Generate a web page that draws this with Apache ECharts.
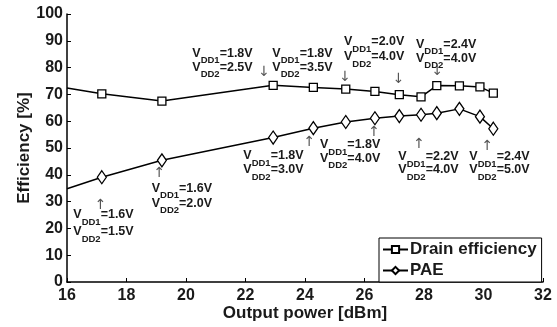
<!DOCTYPE html>
<html><head><meta charset="utf-8">
<script src="https://cdn.jsdelivr.net/npm/echarts@6/dist/echarts.min.js"></script>
<style>html,body{margin:0;padding:0;background:#fff}#c{width:557px;height:327px}</style>
</head><body><div id="c"></div>
<script>
// ---- data ----
const outputPower = [16, 17.17, 19.19, 22.93, 24.28, 25.37, 26.35, 27.17, 27.9, 28.43, 29.19, 29.88, 30.33];
const drainEff    = [72.4, 70.2, 67.5, 73.4, 72.6, 72.0, 71.1, 69.9, 69.1, 73.3, 73.2, 72.8, 70.5];
const paeVals     = [34.8, 39.1, 45.4, 53.9, 57.4, 59.7, 61.1, 61.9, 62.4, 63.0, 64.6, 61.7, 57.2];
const seriesNames = ['Drain efficiency', 'PAE'];
const vdd1Text = ['1.8V', '1.8V', '2.0V', '2.4V', '1.6V', '1.6V', '1.8V', '1.8V', '2.2V', '2.4V'];
const vdd2Text = ['2.5V', '3.5V', '4.0V', '4.0V', '1.5V', '2.0V', '3.0V', '4.0V', '4.0V', '5.0V'];
const arrowText = ['↓', '↓', '↓', '↓', '↑', '↑', '↑', '↑', '↑', '↑'];

// ---- layout (pixels) ----
const labelPos = [
  [192.3, 48.3, 62.3], [272.3, 48.3, 62.3], [344, 36.7, 51.7], [416, 39.3, 53.3],
  [73.3, 210, 226.7], [151.7, 183.3, 198.3], [243.3, 151, 165], [320, 140, 153.3],
  [398.3, 151.7, 165], [469.3, 151.7, 165]
];
const arrowPos = [
  [264, 72.5], [345, 77.5], [398.5, 79.5], [437.3, 71.5],
  [100.7, 205], [159.3, 173.8], [374, 132.4], [309.3, 142.5], [419, 144], [487.3, 146]
];

const FONT = '"Liberation Sans", Arial, Helvetica, sans-serif';
const TXT = '#1a1a1a';

function build(ys) {
  return outputPower.map((x, i) => i === 0 ? { value: [x, ys[i]], symbol: 'none' } : [x, ys[i]]);
}

const rich = {
  m: { fontSize: 12.5, fontWeight: 'bold', fontFamily: FONT, fill: TXT, lineHeight: 12, verticalAlign: 'top' },
  s: { fontSize: 9.5, fontWeight: 'bold', fontFamily: FONT, fill: TXT, lineHeight: 9, verticalAlign: 'top', padding: [9, 0, 0, 0] }
};

const graphics = [];
labelPos.forEach((p, i) => {
  graphics.push({ type: 'text', x: p[0], y: p[1] - 1.5, style: { text: '{m|V}{s|DD1}{m|=' + vdd1Text[i] + '}', rich: rich, verticalAlign: 'top', align: 'left' }, z: 10 });
  graphics.push({ type: 'text', x: p[0], y: p[2] - 1.5, style: { text: '{m|V}{s|DD2}{m|=' + vdd2Text[i] + '}', rich: rich, verticalAlign: 'top', align: 'left' }, z: 10 });
});
arrowPos.forEach((p, i) => {
  graphics.push({ type: 'text', x: p[0], y: p[1], style: { text: arrowText[i], fontSize: 14, fontFamily: '"DejaVu Sans", sans-serif', fill: '#555', align: 'center', verticalAlign: 'middle' }, z: 10 });
});

const chart = echarts.init(document.getElementById('c'), null, { renderer: 'canvas' });
chart.setOption({
  backgroundColor: '#fff',
  animation: false,
  grid: { left: 67, right: 14, top: 14, bottom: 42, containLabel: false },
  xAxis: {
    type: 'value', min: 16, max: 32, interval: 2,
    name: 'Output power [dBm]', nameLocation: 'middle', nameGap: 23, nameMoveOverlap: false,
    nameTextStyle: { fontSize: 17, fontWeight: 'bold', fontFamily: FONT, color: TXT, verticalAlign: 'top' },
    axisLine: { lineStyle: { color: '#000', width: 1.5 } },
    axisTick: { inside: true, length: 4, lineStyle: { color: '#000', width: 1 } },
    axisLabel: { fontSize: 16, fontWeight: 'bold', fontFamily: FONT, color: TXT, margin: 6 },
    splitLine: { show: false }
  },
  yAxis: {
    type: 'value', min: 0, max: 100, interval: 10,
    name: 'Efficiency [%]', nameLocation: 'middle', nameGap: 34, nameMoveOverlap: false,
    nameTextStyle: { fontSize: 17, fontWeight: 'bold', fontFamily: FONT, color: TXT },
    axisLine: { show: true, lineStyle: { color: '#000', width: 1.5 } },
    axisTick: { show: true, inside: true, length: 4, lineStyle: { color: '#000', width: 1 } },
    axisLabel: { fontSize: 16, fontWeight: 'bold', fontFamily: FONT, color: TXT, margin: 4 },
    splitLine: { show: false }
  },
  legend: {
    left: 379, top: 238, orient: 'vertical',
    padding: [3, 5, 3, 3], itemGap: 4, itemWidth: 25, itemHeight: 9,
    borderColor: '#000', borderWidth: 1, backgroundColor: '#fff',
    textStyle: { fontSize: 17, fontWeight: 'bold', fontFamily: FONT, color: TXT, padding: [0, 0, 0, -3] },
    data: seriesNames
  },
  series: [
    {
      name: seriesNames[0], type: 'line', data: build(drainEff),
      symbol: 'rect', symbolSize: 8,
      lineStyle: { color: '#000', width: 1.5 },
      itemStyle: { color: '#fff', borderColor: '#000', borderWidth: 1.3 }
    },
    {
      name: seriesNames[1], type: 'line', data: build(paeVals),
      symbol: 'diamond', symbolSize: [9, 13],
      lineStyle: { color: '#000', width: 1.5 },
      itemStyle: { color: '#fff', borderColor: '#000', borderWidth: 1.3 }
    }
  ],
  graphic: graphics
});
</script>
</body></html>
